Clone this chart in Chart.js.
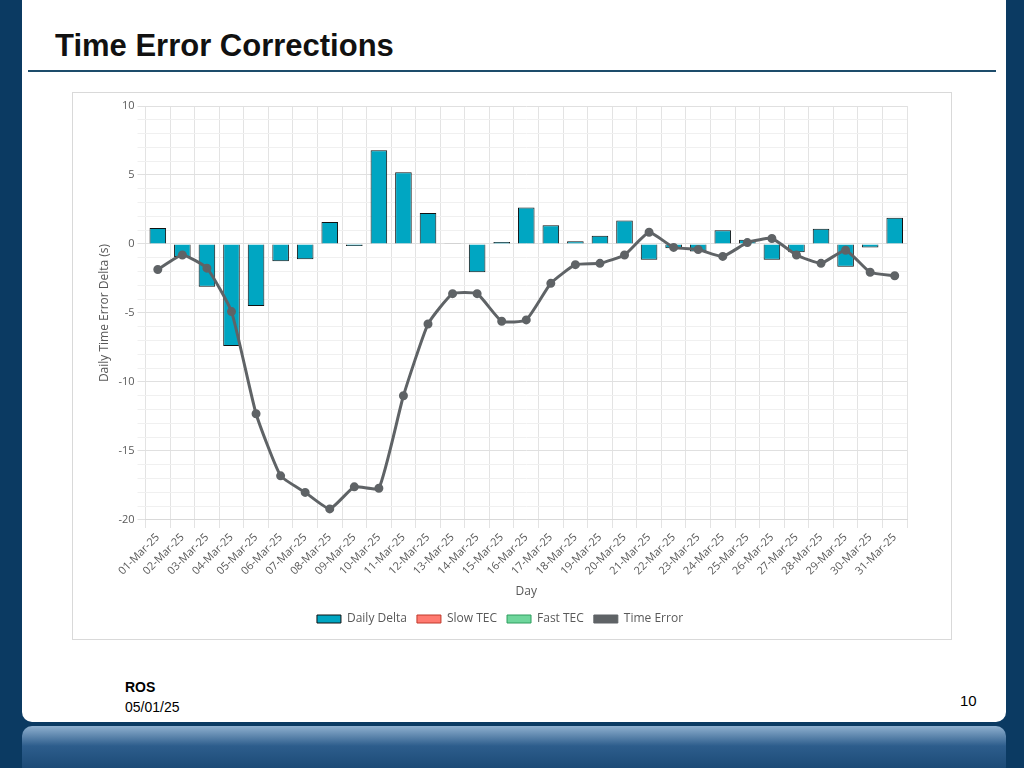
<!DOCTYPE html>
<html>
<head>
<meta charset="utf-8">
<script src="https://cdn.jsdelivr.net/npm/chart.js@4"></script>
<style>
  body { margin:0; width:1024px; height:768px; background:#0b3a62; position:relative; overflow:hidden; font-family:Arial, "Liberation Sans", sans-serif; }
  #panel { position:absolute; left:22px; top:0; width:984px; height:722px; background:#fff; border-radius:0 0 10px 10px; }
  #title { position:absolute; left:55px; top:28px; font-size:31px; font-weight:bold; color:#111; }
  #rule { position:absolute; left:28px; top:70px; width:968px; height:2px; background:#1d4c6b; }
  #box { position:absolute; left:72px; top:92px; width:880px; height:548px; border:1px solid #d9d9d9; box-sizing:border-box; }
  #foot1 { position:absolute; left:125px; top:679px; font-size:14px; font-weight:bold; }
  #foot2 { position:absolute; left:125px; top:699px; font-size:14px; }
  #page { position:absolute; left:960px; top:692px; font-size:15px; }
  #bar { position:absolute; left:22px; top:726px; width:984px; height:50px; border-radius:10px; background:linear-gradient(#8fb0cf, #2d5d8c 40%, #16446f); }
</style>
</head>
<body>
<div id="panel"></div>
<div id="title">Time Error Corrections</div>
<div id="rule"></div>
<div id="box"><canvas id="myChart" width="878" height="546"></canvas></div>
<div id="foot1">ROS</div>
<div id="foot2">05/01/25</div>
<div id="page">10</div>
<div id="bar"></div>
<script>
// days of March 2025
const days = [
    "01-Mar-25", "02-Mar-25", "03-Mar-25", "04-Mar-25", "05-Mar-25", "06-Mar-25", "07-Mar-25",
    "08-Mar-25", "09-Mar-25", "10-Mar-25", "11-Mar-25", "12-Mar-25", "13-Mar-25", "14-Mar-25",
    "15-Mar-25", "16-Mar-25", "17-Mar-25", "18-Mar-25", "19-Mar-25", "20-Mar-25", "21-Mar-25",
    "22-Mar-25", "23-Mar-25", "24-Mar-25", "25-Mar-25", "26-Mar-25", "27-Mar-25", "28-Mar-25",
    "29-Mar-25", "30-Mar-25", "31-Mar-25",
];

const dailyDelta = [
    1.15, -0.95, -3.1, -7.4, -4.5, -1.25, -1.1, 1.6, -0.15, 6.8, 5.2, 2.25, 0.05, -2.05, 0.15, 2.65,
    1.35, 0.2, 0.6, 1.7, -1.15, -0.3, -0.55, 1.0, 0.3, -1.15, -0.6, 1.1, -1.65, -0.25, 1.9,
];
const slowTec = [];
const fastTec = [];
const timeError = [
    -1.85, -0.8, -1.75, -4.9, -12.3, -16.8, -18.0, -19.2, -17.6, -17.7, -11.0, -5.8, -3.6, -3.6, -5.6, -5.5,
    -2.85, -1.5, -1.4, -0.8, 0.85, -0.25, -0.4, -0.9, 0.1, 0.4, -0.8, -1.4, -0.45, -2.05, -2.3,
];

const font = { family: "'Open Sans', sans-serif", size: 11 };
const gray = "#595959";

const config = {
    type: "bar",
    data: {
        labels: days,
        datasets: [
            { label: "Daily Delta", data: dailyDelta, backgroundColor: "#00a6c2", borderColor: "#111", borderWidth: 1, order: 2, grouped: false, categoryPercentage: 0.75, barPercentage: 0.9 },
            { label: "Slow TEC", data: slowTec, backgroundColor: "#ff7a70", borderColor: "#c0392b", borderWidth: 1, order: 3, grouped: false },
            { label: "Fast TEC", data: fastTec, backgroundColor: "#6fd69c", borderColor: "#2e9e5e", borderWidth: 1, order: 4, grouped: false },
            { type: "line", label: "Time Error", data: timeError, borderColor: "#5f6366", backgroundColor: "#5f6366", borderWidth: 3, pointRadius: 3, tension: 0.15, order: 1 },
        ],
    },
    options: {
        responsive: false,
        animation: false,
        layout: { padding: { left: 20, right: 44, top: 13, bottom: 4 } },
        plugins: {
            legend: {
                position: "bottom",
                labels: {
                    color: gray, font: { family: "'Open Sans', sans-serif", size: 12 }, boxWidth: 24, boxHeight: 8,
                    sort: (a, b) => a.datasetIndex - b.datasetIndex,
                    generateLabels(chart) {
                        const items = Chart.defaults.plugins.legend.labels.generateLabels(chart);
                        items.forEach((it) => { if (it.datasetIndex === 3) { it.lineWidth = 1; it.fillStyle = "#5f6366"; } });
                        return items;
                    },
                },
            },
            tooltip: { enabled: false },
        },
        scales: {
            x: {
                offset: true,
                grid: { color: "#e3e3e3", offset: true },
                border: { color: "#d9d9d9" },
                ticks: { color: gray, font: font, maxRotation: 45, minRotation: 45, autoSkip: false },
                title: { display: true, text: "Day", color: gray, font: { family: "'Open Sans', sans-serif", size: 12 } },
            },
            y: {
                min: -20, max: 10,
                grid: { color: (c) => (c.tick.value % 5 === 0 ? "#e0e0e0" : "#f0f0f0") },
                border: { display: false },
                ticks: { stepSize: 1, color: gray, font: font, autoSkip: false, callback: (v) => (v % 5 === 0 ? v : "") },
                title: { display: true, text: "Daily Time Error Delta (s)", color: gray, font: { family: "'Open Sans', sans-serif", size: 12 } },
            },
        },
    },
};
const myChart = new Chart(document.getElementById("myChart"), config);
</script>
</body>
</html>
